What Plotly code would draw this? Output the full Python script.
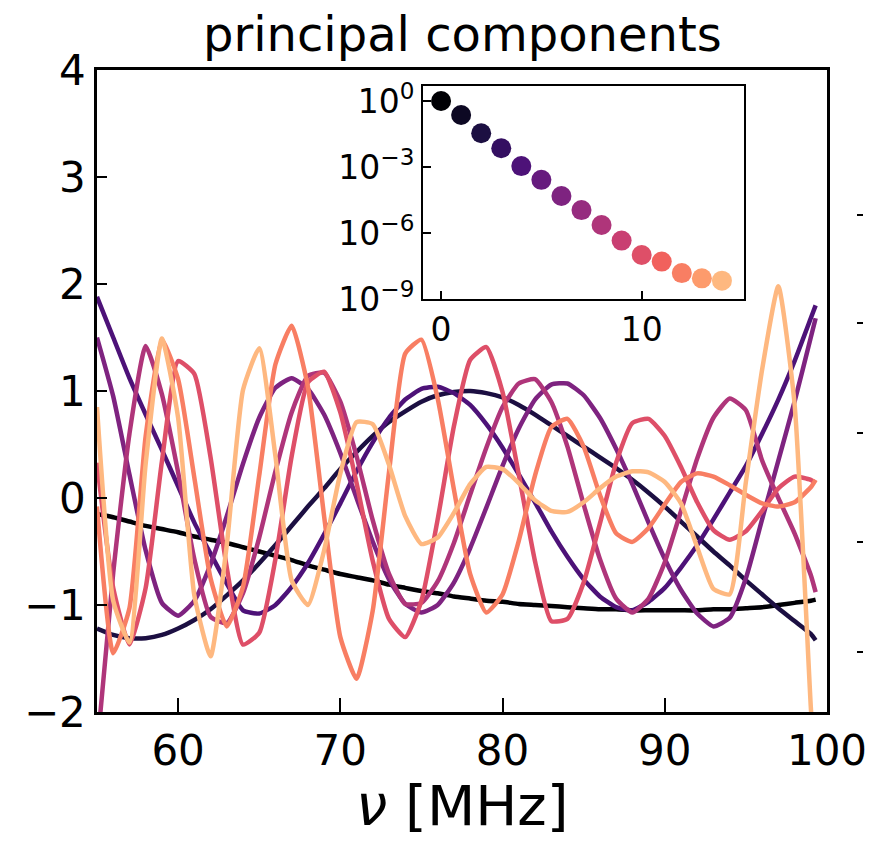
import plotly.graph_objects as go
from plotly.colors import sample_colorscale
import numpy as np

# ---------------- data ----------------
freq = [55, 56, 57, 58, 59, 60, 61, 62, 63, 64, 65, 66, 67, 68, 69, 70, 71, 72, 73, 74,
        75, 76, 77, 78, 79, 80, 81, 82, 83, 84, 85, 86, 87, 88, 89, 90, 91, 92, 93, 94,
        95, 96, 97, 98, 99, 99.3]

pc0 = [-0.15, -0.18, -0.22, -0.26, -0.29, -0.32, -0.36, -0.39, -0.42, -0.46, -0.50, -0.54,
       -0.58, -0.63, -0.67, -0.71, -0.74, -0.77, -0.81, -0.84, -0.87, -0.89, -0.92, -0.94,
       -0.96, -0.97, -0.99, -1.00, -1.01, -1.02, -1.03, -1.04, -1.04, -1.05, -1.05, -1.05,
       -1.05, -1.05, -1.04, -1.04, -1.03, -1.02, -1.00, -0.98, -0.96, -0.95]
pc1 = [-1.22, -1.28, -1.31, -1.31, -1.28, -1.22, -1.14, -1.04, -0.91, -0.77, -0.61, -0.44,
       -0.26, -0.08, 0.09, 0.27, 0.43, 0.58, 0.71, 0.81, 0.90, 0.96, 0.99, 1.00, 0.98, 0.94,
       0.87, 0.78, 0.68, 0.58, 0.48, 0.38, 0.28, 0.17, 0.05, -0.08, -0.22, -0.36, -0.50,
       -0.63, -0.77, -0.90, -1.03, -1.15, -1.27, -1.33]
pc2 = [1.88, 1.50, 1.12, 0.78, 0.45, 0.11, -0.23, -0.52, -0.80, -1.05, -1.08, -1.00, -0.83,
       -0.61, -0.34, -0.05, 0.25, 0.52, 0.75, 0.92, 1.02, 1.04, 0.98, 0.87, 0.69, 0.47, 0.22,
       -0.04, -0.31, -0.55, -0.76, -0.92, -1.02, -1.05, -0.97, -0.84, -0.65, -0.44, -0.20,
       0.05, 0.30, 0.60, 0.92, 1.28, 1.68, 1.80]
pc3 = [1.50, 0.95, 0.22, -0.49, -0.98, -1.10, -0.96, -0.62, -0.17, 0.32, 0.75, 1.03, 1.12,
       1.02, 0.78, 0.42, 0.00, -0.41, -0.76, -0.99, -1.07, -1.00, -0.79, -0.47, -0.09, 0.30,
       0.65, 0.92, 1.06, 1.07, 0.96, 0.75, 0.46, 0.13, -0.23, -0.57, -0.86, -1.08, -1.20,
       -1.12, -0.75, -0.20, 0.35, 0.90, 1.50, 1.68]
pc4 = [-2.35, -0.70, 0.60, 1.42, 0.97, 0.24, -0.57, -1.11, -1.17, -0.89, -0.37, 0.25, 0.80,
       1.14, 1.17, 0.90, 0.39, -0.21, -0.71, -0.99, -0.98, -0.78, -0.42, 0.03, 0.47, 0.85,
       1.07, 1.11, 0.90, 0.48, -0.06, -0.57, -0.94, -1.07, -0.94, -0.60, -0.12, 0.37, 0.75,
       0.93, 0.82, 0.35, 0.00, -0.33, -0.72, -0.88]
pc5 = [0.33, -0.84, -1.37, -0.84, 0.34, 1.28, 1.16, 0.38, -0.65, -1.37, -1.26, -0.57, 0.39,
       1.08, 1.18, 0.80, 0.14, -0.59, -1.13, -1.30, -0.96, -0.20, 0.67, 1.29, 1.41, 0.99,
       0.22, -0.59, -1.15, -1.13, -0.79, -0.24, 0.33, 0.70, 0.74, 0.58, 0.29, -0.04, -0.30,
       -0.39, -0.31, -0.12, 0.09, 0.20, 0.17, 0.14]
pc6 = [-0.08, -1.45, -1.03, 0.58, 1.48, 1.11, 0.19, -0.75, -1.20, -0.83, 0.21, 1.25, 1.61,
       1.04, -0.17, -1.30, -1.69, -1.05, 0.24, 1.35, 1.48, 0.93, 0.08, -0.71, -1.07, -0.90,
       -0.40, 0.21, 0.66, 0.74, 0.48, 0.03, -0.33, -0.41, -0.28, -0.06, 0.15, 0.23, 0.20,
       0.12, 0.03, -0.05, -0.08, -0.04, 0.10, 0.17]
pc7 = [0.85, -0.96, -1.35, 0.32, 1.49, 0.75, -0.91, -1.48, -0.44, 1.01, 1.40, 0.39, -0.77,
       -1.00, -0.49, 0.23, 0.71, 0.69, 0.31, -0.17, -0.43, -0.37, -0.14, 0.13, 0.29, 0.27,
       0.14, -0.02, -0.12, -0.13, -0.04, 0.09, 0.20, 0.25, 0.24, 0.15, -0.05, -0.46, -0.85,
       -0.90, 0.15, 1.20, 1.98, 0.88, -1.95, -2.70]
components = [pc0, pc1, pc2, pc3, pc4, pc5, pc6, pc7]

eig_index = list(range(15))
eigenvalues = [1.0, 0.23, 0.034, 7.1e-3, 1.1e-3, 2.6e-4, 4.8e-5, 1.1e-5, 2.3e-6,
               4.5e-7, 1.0e-7, 5.0e-8, 1.5e-8, 8.7e-9, 6.8e-9]

main_yticks = [-2, -1, 0, 1, 2, 3, 4]
main_yticktext = ["\u22122", "\u22121", "0", "1", "2", "3", "4"]
main_xticks = [60, 70, 80, 90, 100]
inset_yticks = [1, 1e-3, 1e-6, 1e-9]
inset_yticktext = ["10<sup>0</sup>", "10<sup>\u22123</sup>", "10<sup>\u22126</sup>", "10<sup>\u22129</sup>"]
inset_xticks = [0, 10]
neighbor_ticks = [2.645, 1.636, 0.607, -0.41, -1.44]

# ---------------- figure ----------------
line_colors = sample_colorscale("Magma", list(np.linspace(0, 0.85, len(components))))
dot_colors = sample_colorscale("Magma", list(np.linspace(0, 0.85, len(eigenvalues))))

fig = go.Figure()
for comp, col in zip(components, line_colors):
    fig.add_trace(go.Scatter(x=freq, y=comp, mode="lines",
                             line=dict(color=col, width=4.5, shape="spline", smoothing=0.5),
                             showlegend=False, hoverinfo="skip"))

fig.add_trace(go.Scatter(x=eig_index, y=eigenvalues, mode="markers", xaxis="x2", yaxis="y2",
                         marker=dict(color=dot_colors, size=20, line=dict(width=0)),
                         showlegend=False, hoverinfo="skip"))

# dummy trace for the neighbouring panel's tick marks
fig.add_trace(go.Scatter(x=[None], y=[None], yaxis="y3", mode="lines", showlegend=False,
                         hoverinfo="skip"))

W, H = 873, 841
L, T, B = 97, 70, 129
plot_w = W - L
main_right = 827
xdom_end = (main_right - L) / plot_w
font_family = "DejaVu Sans"

fig.update_layout(
    width=W, height=H,
    margin=dict(l=L, r=0, t=T, b=B, pad=0),
    paper_bgcolor="white", plot_bgcolor="white",
    font=dict(family=font_family, color="black"),
    xaxis=dict(domain=[0, xdom_end], range=[55, 100], tickvals=main_xticks,
               ticks="inside", ticklen=14, tickwidth=2, tickcolor="black",
               showline=True, mirror=True, linewidth=2.5, linecolor="black",
               showgrid=False, zeroline=False, tickfont=dict(size=42), automargin=False),
    yaxis=dict(domain=[0, 1], range=[-2, 4], tickvals=main_yticks, ticktext=main_yticktext,
               ticks="inside", ticklen=10, tickwidth=2, tickcolor="black",
               showline=True, mirror=True, linewidth=2.5, linecolor="black",
               showgrid=False, zeroline=False, tickfont=dict(size=42), automargin=False),
    xaxis2=dict(domain=[(423 - L) / plot_w, (744 - L) / plot_w], anchor="y2",
                range=[-0.9, 15.1], tickvals=inset_xticks,
                ticks="inside", ticklen=8, tickwidth=2, tickcolor="black",
                showline=True, mirror=True, linewidth=2, linecolor="black",
                showgrid=False, zeroline=False, tickfont=dict(size=33), automargin=False),
    yaxis2=dict(domain=[(712 - 299) / 642, (712 - 86) / 642], anchor="x2", type="log",
                range=[-9, 0.68], tickvals=inset_yticks, ticktext=inset_yticktext,
                ticks="inside", ticklen=8, tickwidth=2, tickcolor="black",
                showline=True, mirror=True, linewidth=2, linecolor="black",
                showgrid=False, zeroline=False, tickfont=dict(size=33), automargin=False),
    yaxis3=dict(overlaying="y", anchor="free", position=(863 - L) / plot_w, side="left",
                range=[-2, 4], tickvals=neighbor_ticks, showticklabels=False,
                ticks="outside", ticklen=6, tickwidth=2, tickcolor="black",
                showline=False, showgrid=False, zeroline=False),
    annotations=[
        dict(text="principal components", xref="paper", yref="paper",
             x=(462 - L) / plot_w, y=(712 - 34) / 642, xanchor="center", yanchor="middle",
             showarrow=False, font=dict(size=48, family=font_family)),
        dict(text="<i>\u03bd</i> [MHz]", xref="paper", yref="paper",
             x=(462 - L) / plot_w, y=(712 - 806) / 642, xanchor="center", yanchor="middle",
             showarrow=False, font=dict(size=56, family=font_family)),
    ],
)

fig.write_html("out.html")
